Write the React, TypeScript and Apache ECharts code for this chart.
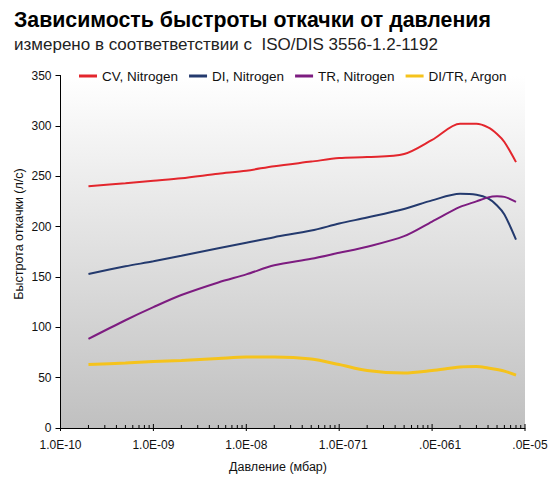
import React, { useEffect, useRef } from "react";
import * as echarts from "echarts";

const pressures = [2e-10, 5e-10, 1e-9, 2e-9, 5e-9, 1e-8, 2e-8, 5e-8, 1e-7, 2e-7, 5e-7, 1e-6, 2e-6, 3e-6, 4e-6, 5e-6, 6e-6, 8e-6];
const cvNitrogen = [240, 243, 245.5, 248, 252.5, 255.5, 260, 264.5, 268, 269, 272, 286, 302, 302, 298.5, 292, 284, 264];
const diNitrogen = [153, 160.5, 165.5, 171, 178.5, 184, 189.5, 196, 203, 209, 217.5, 226, 232.5, 231.5, 228, 221, 212, 187];
const trNitrogen = [88.5, 107, 120, 132, 144.5, 152.5, 161.5, 168, 174, 180, 190.5, 205, 219.5, 225, 229, 230, 229.5, 224.5];
const diTrArgon = [63, 64.5, 66, 67, 69, 70.5, 70.5, 68.5, 63, 57, 54.5, 57, 60.5, 61, 59.5, 58, 56.5, 52.5];

const seriesNames = ["CV, Nitrogen", "DI, Nitrogen", "TR, Nitrogen", "DI/TR, Argon"];
const seriesColors = ["#e3262d", "#243a6e", "#7d1c80", "#f5c31c"];
const seriesWidths = [2, 2, 2, 3];

const xTickLabels = ["1.0E-10", "1.0E-09", "1.0E-08", "1.0E-071", ".0E-061", ".0E-05"];
const xTickStyles = ["n", "n", "n", "a", "b", "c"];
const decades = [1e-10, 1e-9, 1e-8, 1e-7, 1e-6, 1e-5];
const minorMultipliers = [2, 3, 4, 5, 6, 7, 8, 9];

const title = "Зависимость быстроты откачки от давления";
const subtitle = "измерено в соответветствии с  ISO/DIS 3556-1.2-1192";
const yName = "Быстрота откачки (л/с)";
const xName = "Давление (мбар)";

const FONT = "'Liberation Sans', Arial, sans-serif";

export default function App() {
  const ref = useRef<HTMLDivElement>(null);
  useEffect(() => {
    if (!ref.current) return;
    document.body.style.margin = "0";
    const chart = echarts.init(ref.current, undefined, { renderer: "svg" });
    const values = [cvNitrogen, diNitrogen, trNitrogen, diTrArgon];

    const tickData: number[][] = [];
    decades.forEach((d, i) => {
      tickData.push([d, 0, 1]);
      if (i < decades.length - 1) {
        minorMultipliers.forEach((m) => tickData.push([d * m, 0, 0]));
      }
    });

    const lineSeries = values.map((vals, i) => ({
      name: seriesNames[i],
      type: "line",
      data: pressures.map((p, j) => [p, vals[j]]),
      smooth: 0.3,
      showSymbol: false,
      symbol: "none",
      lineStyle: { color: seriesColors[i], width: seriesWidths[i] },
      itemStyle: { color: seriesColors[i] },
      z: 3,
    }));

    const labelBase = { fontSize: 12, color: "#111", fontFamily: FONT };

    chart.setOption({
      animation: false,
      textStyle: { fontFamily: FONT },
      grid: {
        left: 60.5,
        right: 26,
        top: 75.5,
        bottom: 51,
        show: true,
        borderWidth: 0,
        backgroundColor: new echarts.graphic.LinearGradient(0, 0, 0, 1, [
          { offset: 0, color: "#ffffff" },
          { offset: 1, color: "#c0c0c0" },
        ]),
        outerBoundsMode: "none",
        containLabel: false,
      },
      legend: {
        data: seriesNames,
        left: 79,
        top: 69,
        padding: 0,
        icon: "rect",
        itemWidth: 18,
        itemHeight: 3,
        itemGap: 11,
        textStyle: { fontSize: 13.5, color: "#111", fontFamily: FONT },
      },
      graphic: [
        {
          type: "text",
          x: 14,
          y: 20,
          style: { text: title, fill: "#000", font: `bold 21.3px ${FONT}`, textVerticalAlign: "middle", verticalAlign: "middle" },
        },
        {
          type: "text",
          x: 14,
          y: 44.5,
          style: { text: subtitle, fill: "#222", font: `17px ${FONT}`, textVerticalAlign: "middle", verticalAlign: "middle" },
        },
        {
          type: "text",
          x: 19,
          y: 234,
          rotation: Math.PI / 2,
          style: { text: yName, fill: "#111", font: `12.5px ${FONT}`, align: "center", verticalAlign: "middle", textAlign: "center", textVerticalAlign: "middle" },
        },
        {
          type: "text",
          x: 278,
          y: 467,
          style: { text: xName, fill: "#111", font: `12.5px ${FONT}`, align: "center", verticalAlign: "middle", textAlign: "center", textVerticalAlign: "middle" },
        },
      ],
      xAxis: {
        type: "log",
        logBase: 10,
        min: 1e-10,
        max: 1e-5,
        splitLine: { show: false },
        axisTick: { show: false },
        axisLine: { lineStyle: { color: "#000", width: 1 } },
        axisLabel: {
          margin: 11,
          ...labelBase,
          formatter: (v: number) => {
            const idx = Math.round(Math.log10(v)) + 10;
            const t = xTickLabels[idx];
            if (t === undefined) return "";
            return `{${xTickStyles[idx]}|${t}}`;
          },
          rich: {
            n: { ...labelBase },
            a: { ...labelBase, padding: [0, 0, 0, 8] },
            b: { ...labelBase, padding: [0, 0, 0, 16] },
            c: { ...labelBase, padding: [0, 0, 0, 10] },
          },
        },
      },
      yAxis: {
        type: "value",
        min: 0,
        max: 350,
        interval: 50,
        splitLine: { show: false },
        axisLine: { show: true, lineStyle: { color: "#000", width: 1 } },
        axisTick: { show: true, inside: false, length: 5, lineStyle: { color: "#000" } },
        axisLabel: { margin: 9, ...labelBase },
      },
      series: [
        ...lineSeries,
        {
          type: "custom",
          name: "ticks",
          data: tickData,
          clip: false,
          silent: true,
          z: 5,
          renderItem: (params: any, api: any) => {
            const p = api.coord([api.value(0), 0]);
            const major = api.value(2) === 1;
            return {
              type: "line",
              shape: { x1: p[0], y1: p[1] + (major ? 3 : 0), x2: p[0], y2: p[1] - (major ? 4 : 3) },
              style: { stroke: "#000", lineWidth: 1 },
            };
          },
        },
      ],
    });
    return () => chart.dispose();
  }, []);
  return <div ref={ref} style={{ width: 551, height: 479 }} />;
}
